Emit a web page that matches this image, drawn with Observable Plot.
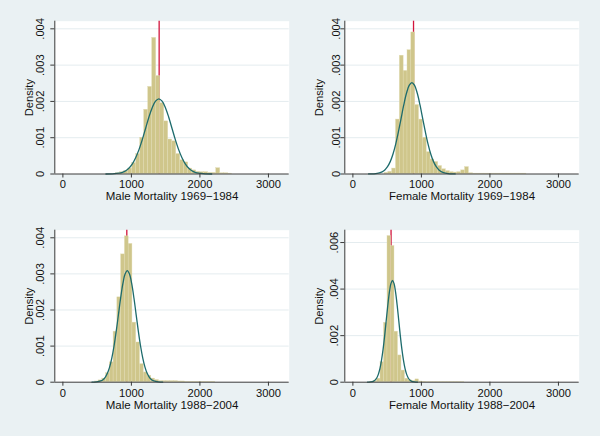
<!DOCTYPE html>
<html><head><meta charset="utf-8">
<script src="https://cdn.jsdelivr.net/npm/d3@7"></script>
<script src="https://cdn.jsdelivr.net/npm/@observablehq/plot@0.6"></script>
<style>
html,body{margin:0;padding:0;background:#eaf1f3;}
#chart{position:relative;width:600px;height:436px;background:#eaf1f3;overflow:hidden;}
#chart > div{position:absolute;width:300px;height:218px;}
</style></head><body><div id="chart"></div>
<script>
// ---- axis ticks & labels ----
const xTicks = [0, 1000, 2000, 3000];
const xTickLabels = ["0", "1000", "2000", "3000"];
const yTicksA = [0, 0.001, 0.002, 0.003, 0.004];
const yTickLabelsA = ["0", ".001", ".002", ".003", ".004"];
const yTicksB = [0, 0.002, 0.004, 0.006];
const yTickLabelsB = ["0", ".002", ".004", ".006"];
const titles = ["Male Mortality 1969\u22121984", "Female Mortality 1969\u22121984",
                "Male Mortality 1988\u22122004", "Female Mortality 1988\u22122004"];
const yTitle = "Density";

// ---- Male 1969-1984 ----
const maleEarlyBinStart = 778, maleEarlyBinWidth = 58.4;
const maleEarlyDensity = [0.00002,0.00005,0.00008,0.00015,0.0003,0.00055,0.001,0.00177,0.0024,0.00375,
  0.0027,0.00195,0.00145,0.00095,0.0009,0.00055,0.00038,0.00032,0.00015,0.0001,
  0.00006,0.00005,0.00005,0.00003,0.00003,0.00016,0.00002,0.00002,0.00001];
const maleEarlyRef = 1405;
const maleEarlyCurveX = [628,724.5,821,869,917.5,966,1014,1062,1110.5,1159,1207,1255,1303.5,1352,1400,
  1448,1496.5,1545,1593,1641,1689.5,1738,1786,1834,1882.5,1931,1979,2075.5,2172];
const maleEarlyCurveY = [0.0000006,0.0000046,0.000023,0.000047,0.000091,0.000165,0.00028,0.000448,0.000672,0.000948,
  0.001255,0.001562,0.001827,0.002006,0.00207,0.002006,0.001827,0.001562,0.001255,0.000948,
  0.000672,0.000448,0.00028,0.000165,0.000091,0.000047,0.000023,0.0000046,0.0000006];

// ---- Female 1969-1984 ----
const femaleEarlyBinStart = 461, femaleEarlyBinWidth = 56;
const femaleEarlyDensity = [0.00003,0.00006,0.00015,0.0015,0.00326,0.00284,0.00341,0.0039,0.0019,0.0015,
  0.001,0.0006,0.0004,0.00033,0.00022,0.00013,0.00008,0.00005,0.00004,0.00005,
  0.0001,0.00019,0.00002,0.00001,0.00001,0.00001,0.00001,0.00001,0.00001,0.00001,
  0.00001,0.00001,0.00001,0.00001,0.00001,0.00001,0.00001];
const femaleEarlyRef = 885;
const femaleEarlyCurveX = [229,308,387,426.5,466,505.5,545,584.5,624,663.5,703,742.5,782,821.5,861,
  900.5,940,979.5,1019,1058.5,1098,1137.5,1177,1216.5,1256,1295.5,1335,1414,1493];
const femaleEarlyCurveY = [0.0000008,0.0000055,0.000028,0.000057,0.000111,0.000201,0.000341,0.000545,0.000818,0.001154,
  0.001528,0.001902,0.002224,0.002442,0.00252,0.002442,0.002224,0.001902,0.001528,0.001154,
  0.000818,0.000545,0.000341,0.000201,0.000111,0.000057,0.000028,0.0000055,0.0000008];

// ---- Male 1988-2004 ----
const maleLateBinStart = 465, maleLateBinWidth = 55;
const maleLateDensity = [0.00002,0.00005,0.0001,0.00025,0.00055,0.0014,0.00235,0.00354,0.00404,0.00383,
  0.00165,0.0011,0.0005,0.00027,0.00018,0.0001,0.00006,0.00003,0.00003,0.00003,
  0.00003,0.00003,0.00002,0.00002,0.00001,0.00001,0.00001,0.00001,0.00001,0.00001,0.00001,0.00001];
const maleLateRef = 933;
const maleLateCurveX = [424,488.5,553,585,617.5,649.5,682,714,746.5,778.75,811,843,875.5,907.75,940,
  972,1004.5,1037,1069,1101,1133.5,1166,1198,1230,1262.5,1295,1327,1391.5,1456];
const maleLateCurveY = [0.0000009,0.0000068,0.000034,0.00007,0.000136,0.000246,0.000418,0.000668,0.001003,0.001415,
  0.001874,0.002332,0.002727,0.002995,0.00309,0.002995,0.002727,0.002332,0.001874,0.001415,
  0.001003,0.000668,0.000418,0.000246,0.000136,0.00007,0.000034,0.0000068,0.0000009];

// ---- Female 1988-2004 ----
const femaleLateBinStart = 250, femaleLateBinWidth = 51;
const femaleLateDensity = [0.00002,0.00005,0.00015,0.00086,0.00255,0.00628,0.00585,0.00217,0.00115,0.0005,
  0.00015,0.00008,0.00005,0.00012,0.00003,0.00002,0.00001,0.00001,0.00001,0.00001,
  0.00001,0.00001,0.00001,0.00001,0.00001,0.00001,0.00001];
const femaleLateRef = 557;
const femaleLateCurveX = [213,258.5,304,327,350,372.5,395.5,418,441,464,486.5,509.5,532.5,555,578,
  601,623.5,646.5,669.5,692,715,738,760.5,783.5,806.5,829,852,897.5,943];
const femaleLateCurveY = [0.0000013,0.0000096,0.0000485,0.0000996,0.000192,0.000348,0.000591,0.000945,0.001419,0.002001,
  0.00265,0.003298,0.003857,0.004235,0.00437,0.004235,0.003857,0.003298,0.00265,0.002001,
  0.001419,0.000945,0.000591,0.000348,0.000192,0.0000996,0.0000485,0.0000096,0.0000013];

// ---- styling ----
const barFill = "#cfc68b", barStroke = "#e2dcb4", curveColor = "#1d6b6c", refColor = "#d2143c";
const axisColor = "#3a3a3a", gridColor = "#e4ecef", textColor = "#111";
const fontFamily = "'Liberation Sans', Arial, Helvetica, sans-serif";
const xDomain = [-118, 3303];

const panels = [
  {left: 0, top: 0, start: maleEarlyBinStart, width: maleEarlyBinWidth, dens: maleEarlyDensity, ref: maleEarlyRef,
   cx: maleEarlyCurveX, cy: maleEarlyCurveY, yTicks: yTicksA, yLabels: yTickLabelsA, yMax: 0.00421,
   title: titles[0], m: [54.3, 11.3, 20.7, 44.5], ldx: -14.3},
  {left: 300, top: 0, start: femaleEarlyBinStart, width: femaleEarlyBinWidth, dens: femaleEarlyDensity, ref: femaleEarlyRef,
   cx: femaleEarlyCurveX, cy: femaleEarlyCurveY, yTicks: yTicksA, yLabels: yTickLabelsA, yMax: 0.00421,
   title: titles[1], m: [44.3, 21.3, 20.7, 44.5], ldx: -8.5},
  {left: 0, top: 218, start: maleLateBinStart, width: maleLateBinWidth, dens: maleLateDensity, ref: maleLateRef,
   cx: maleLateCurveX, cy: maleLateCurveY, yTicks: yTicksA, yLabels: yTickLabelsA, yMax: 0.00421,
   title: titles[2], m: [54.3, 11.3, 11.7, 54.3], ldx: -14.3},
  {left: 300, top: 218, start: femaleLateBinStart, width: femaleLateBinWidth, dens: femaleLateDensity, ref: femaleLateRef,
   cx: femaleLateCurveX, cy: femaleLateCurveY, yTicks: yTicksB, yLabels: yTickLabelsB, yMax: 0.00653,
   title: titles[3], m: [44.3, 21.3, 11.7, 54.3], ldx: -10}
];

const chart = document.getElementById("chart");
for (const p of panels) {
  const bars = p.dens.map((h, i) => ({x1: p.start + i * p.width, x2: p.start + (i + 1) * p.width, h}));
  const curve = p.cx.map((x, i) => ({x, y: p.cy[i]}));
  const svg = Plot.plot({
    width: 300, height: 218,
    marginLeft: p.m[0], marginRight: p.m[1], marginTop: p.m[2], marginBottom: p.m[3],
    x: {domain: xDomain},
    y: {domain: [0, p.yMax]},
    style: {fontFamily, fontSize: "11.2px", color: textColor, background: "transparent", overflow: "visible"},
    marks: [
      Plot.frame({fill: "white", stroke: "none"}),
      Plot.gridY(p.yTicks.filter(d => d > 0), {stroke: gridColor, strokeOpacity: 1, strokeWidth: 1}),
      Plot.ruleX([p.ref], {stroke: refColor, strokeWidth: 1.3}),
      Plot.rectY(bars, {x1: "x1", x2: "x2", y: "h", fill: barFill, stroke: barStroke, strokeWidth: 0.4}),
      Plot.line(curve, {x: "x", y: "y", stroke: curveColor, strokeWidth: 1.3, curve: "catmull-rom"}),
      Plot.ruleY([0], {stroke: axisColor, strokeWidth: 1}),
      Plot.ruleX([xDomain[0]], {stroke: axisColor, strokeWidth: 1}),
      Plot.axisX(xTicks, {tickSize: 4, tickPadding: 2.5, label: null, stroke: axisColor,
        tickFormat: d => xTickLabels[xTicks.indexOf(d)]}),
      Plot.axisY(p.yTicks, {tickSize: 4, label: null, stroke: axisColor, tickFormat: () => ""}),
      Plot.text(p.yTicks, {y: d => d, text: (d, i) => p.yLabels[i], frameAnchor: "left", dx: p.ldx,
        rotate: -90, textAnchor: "middle", lineAnchor: "middle", fill: textColor}),
      Plot.text([yTitle], {text: d => d, frameAnchor: "left", dx: -25.8, rotate: -90,
        textAnchor: "middle", lineAnchor: "middle", fill: textColor}),
      Plot.text([p.title], {text: d => d, frameAnchor: "bottom", dy: 18.3, lineAnchor: "top",
        textAnchor: "middle", fontSize: 11.5, fill: textColor})
    ]
  });
  const holder = document.createElement("div");
  holder.style.left = p.left + "px";
  holder.style.top = p.top + "px";
  holder.appendChild(svg);
  chart.appendChild(holder);
}
</script>
</body></html>
